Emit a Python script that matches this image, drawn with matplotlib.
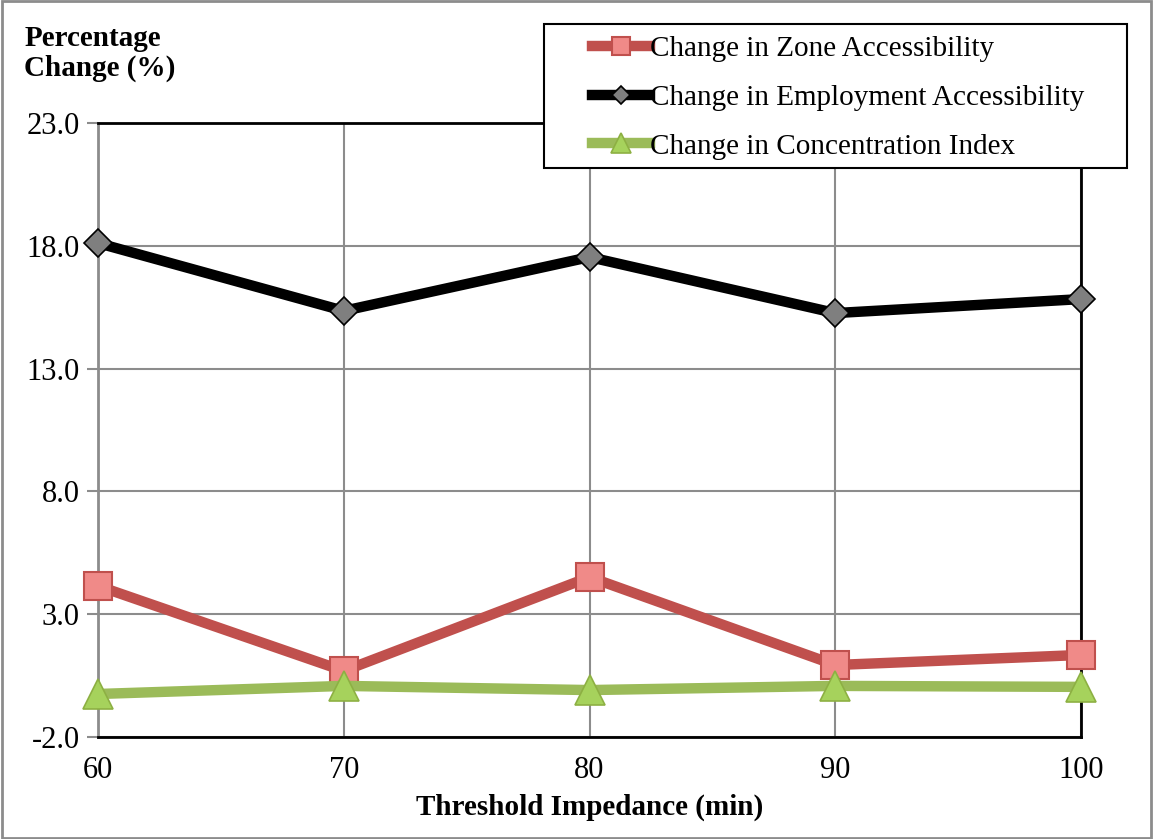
import matplotlib
matplotlib.use("Agg")
import matplotlib.pyplot as plt
from matplotlib.patches import Rectangle

thresholds = [60, 70, 80, 90, 100]
zone_acc = [4.15, 0.69, 4.51, 0.93, 1.34]
employment_acc = [18.11, 15.35, 17.54, 15.26, 15.83]
concentration = [-0.25, 0.08, -0.09, 0.08, 0.04]
yticks = [-2.0, 3.0, 8.0, 13.0, 18.0, 23.0]

plt.rcParams['font.family'] = ['Liberation Serif', 'DejaVu Serif']

W, H = 1153, 839
fig = plt.figure(figsize=(W / 100, H / 100), dpi=100)
fig.patches.append(Rectangle((0.0015, 0.0015), 0.997, 0.997, transform=fig.transFigure,
                             fill=False, edgecolor='#8c8c8c', linewidth=2))
ax = fig.add_axes([0.085, 0.1216, 0.8526, 0.7318])

ax.plot(thresholds, zone_acc, color='#C0504D', lw=7.5, marker='s', markersize=20,
        markerfacecolor='#F08A88', markeredgecolor='#C0504D', markeredgewidth=1.5,
        label='Change in Zone Accessibility', zorder=3, clip_on=False)
ax.plot(thresholds, employment_acc, color='black', lw=7.5, marker='D', markersize=14,
        markerfacecolor='#7f7f7f', markeredgecolor='black', markeredgewidth=1.2,
        label='Change in Employment Accessibility', zorder=3, clip_on=False)
ax.plot(thresholds, concentration, color='#9BBB59', lw=7.5, marker='^', markersize=22,
        markerfacecolor='#A6D25C', markeredgecolor='#8DB043', markeredgewidth=1.2,
        label='Change in Concentration Index', zorder=4, clip_on=False)

ax.set_xlim(60, 100)
ax.set_ylim(-2, 23)
ax.set_xticks(thresholds)
ax.set_xticklabels([str(t) for t in thresholds])
ax.set_yticks(yticks)
ax.set_yticklabels([f"{v:.1f}" for v in yticks])
ax.grid(True, color='#8c8c8c', linewidth=1.5)
ax.set_axisbelow(True)
ax.tick_params(axis='both', labelsize=22, direction='out', length=8, width=1.5,
               color='#8c8c8c', pad=5)
ax.tick_params(axis='x', length=0, pad=14)
for side in ['top', 'right', 'bottom']:
    ax.spines[side].set_color('black')
    ax.spines[side].set_linewidth(2)
ax.spines['left'].set_color('#8c8c8c')
ax.spines['left'].set_linewidth(2)

ax.set_xlabel('Threshold Impedance (min)', fontsize=21, fontweight='bold', labelpad=6)
fig.text(0.021, 0.902, 'Percentage\nChange (%)', fontsize=21, fontweight='bold',
         ha='left', va='bottom', linespacing=1.15)

# legend frame
fig.patches.append(Rectangle((544 / W, 1 - 168 / H), (1127 - 544) / W, (168 - 24) / H,
                             transform=fig.transFigure, facecolor='white',
                             edgecolor='black', linewidth=1.5, zorder=5))
leg = fig.legend(loc='upper left', bbox_to_anchor=(592 / W, 1 - 36 / H), fontsize=21,
                 frameon=False, handlelength=2.0, handletextpad=0.0,
                 labelspacing=0.76, borderpad=0, borderaxespad=0, markerscale=0.65)
leg.set_zorder(6)

fig.savefig('out.png', dpi=100)
